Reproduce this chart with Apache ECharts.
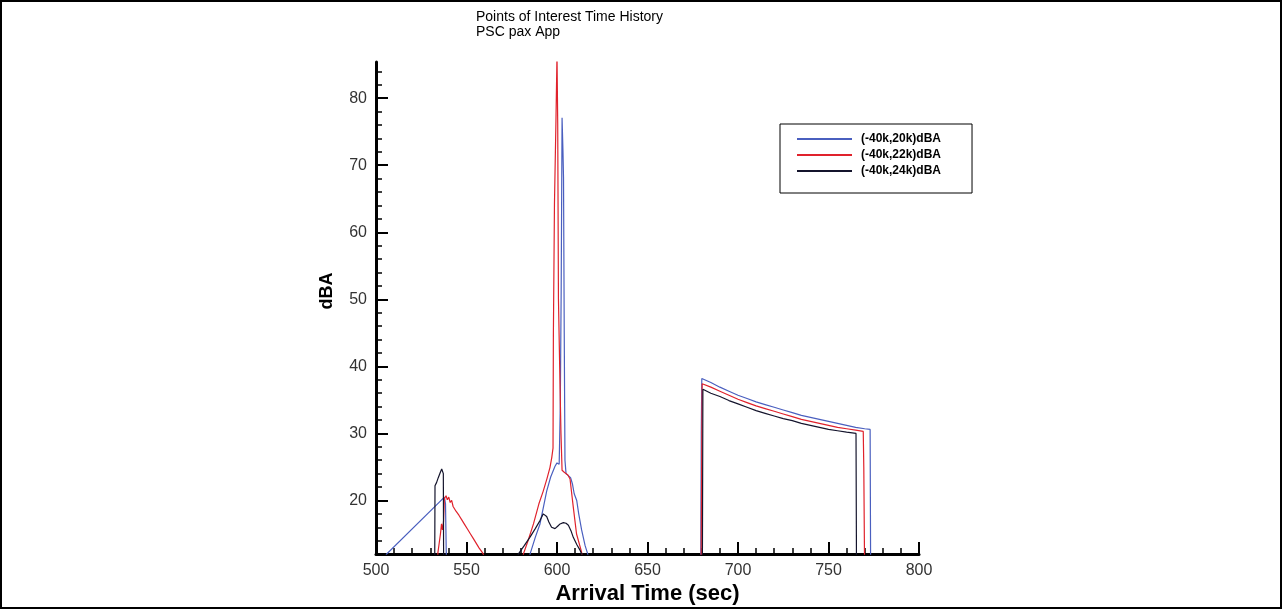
<!DOCTYPE html>
<html lang="en">
<head>
    <meta charset="UTF-8">
    <title>Points of Interest Time History</title>
    <style>
        html, body { margin: 0; padding: 0; background: #fff; }
        #chart { width: 1283px; height: 610px; }
    </style>
</head>
<body>
    <div id="chart"></div>
    <script src="https://cdn.jsdelivr.net/npm/echarts@6/dist/echarts.min.js"></script>
    <script>
        // series names (legend)
        var seriesNames = ['(-40k,20k)dBA', '(-40k,22k)dBA', '(-40k,24k)dBA'];
        var seriesColors = ['#4a5fbf', '#e0222c', '#14142c'];

        // [arrival time (sec), dBA]; values under 12 fall below the axis
        var data20k = [
            [505.5, 11.9], [537.8, 20.5], [538.4, 19.5], [538.8, 12.5], [539.2, 8],
            [584.5, 8], [585.1, 12], [588, 14.5], [590.6, 16.5], [592.5, 19], [594.3, 21.4], [596.5, 23.5],
            [598.9, 25.1], [600, 25.6], [601.2, 25.4], [601.8, 33.7], [602.3, 51], [602.8, 77.1], [603.3, 72],
            [603.6, 68.2], [604, 45], [604.4, 26], [605, 24], [606, 23.8], [607.5, 23.4], [608.5, 22.5],
            [609.5, 21], [610.9, 20], [612, 18], [613.6, 15.6], [615.5, 13.3], [617, 12], [617.6, 8],
            [679.4, 8], [679.7, 30], [680, 38.2], [685, 37.6], [690, 36.9], [695, 36.3], [700, 35.7],
            [705, 35.2], [710, 34.7], [715, 34.3], [720, 33.9], [725, 33.5], [730, 33.1], [735, 32.7],
            [740, 32.4], [745, 32.1], [750, 31.8], [755, 31.5], [760, 31.2], [765, 30.9], [770, 30.7],
            [773, 30.6], [773.3, 8]
        ];
        var data22k = [
            [533.8, 8], [534.2, 12.2], [535, 13.8], [535.6, 15], [536.2, 16.5], [536.7, 15.6], [537.3, 16.8],
            [537.8, 20.3], [538.7, 20.7], [539.4, 20.1], [540.2, 20.5], [541, 19.7], [541.8, 20.0], [542.6, 19.1],
            [543.4, 19.3], [544.2, 18.4], [545, 18.6], [545.8, 17.8], [546.6, 18.0], [547.4, 17.1], [548.2, 17.2],
            [549, 16.4], [549.8, 16.5], [550.6, 15.7], [551.4, 15.8], [552.2, 15.0], [553, 15.1], [553.8, 14.3],
            [554.6, 14.4], [555.4, 13.6], [556.2, 13.7], [557, 12.9], [557.8, 13.0], [558.6, 12.3], [559.3, 12.0],
            [560, 10.5], [560.5, 8],
            [580.8, 8], [581.4, 12], [584, 14], [587, 16.5], [590, 19.5], [592.4, 21.4], [594.5, 23.3],
            [596.1, 24.9], [597.1, 26.4], [597.8, 27.8], [598.0, 44.6], [598.6, 64.3], [599.4, 76.3], [600.0, 86.5],
            [600.4, 76], [600.8, 50], [601.7, 36.7], [602.2, 30], [602.8, 24.5], [604, 24.2], [606, 23.8],
            [607.2, 23.2], [609, 19], [610.8, 15], [613.6, 12.3], [614.5, 8],
            [679.6, 8], [680.0, 30], [680.2, 37.4], [685, 36.9], [690, 36.3], [695, 35.7], [700, 35.1],
            [705, 34.6], [710, 34.1], [715, 33.7], [720, 33.3], [725, 32.9], [730, 32.5], [735, 32.1],
            [740, 31.8], [745, 31.5], [750, 31.2], [755, 30.9], [760, 30.7], [765, 30.5], [769.2, 30.3],
            [769.5, 25], [770, 8]
        ];
        var data24k = [
            [532.4, 8], [532.6, 22.2], [533.5, 22.7], [534.4, 23.4], [535.4, 24.1], [536.3, 24.7], [536.9, 24.9],
            [537.2, 24], [537.4, 8],
            [578, 8], [578.6, 12], [582, 13.3], [585, 14.5], [588, 15.8], [590.6, 17], [592.4, 18], [594.3, 17.6],
            [595.5, 16.8], [597, 16], [598.9, 15.8], [600.5, 16.2], [601.7, 16.5], [603.5, 16.7], [605, 16.6],
            [606.3, 16.3], [607.7, 15.5], [609, 14.5], [611, 13.4], [612.7, 12.6], [613.6, 12], [614.2, 8],
            [680.3, 8], [680.6, 36.6], [685, 36.0], [690, 35.5], [695, 34.9], [700, 34.4], [705, 33.9],
            [710, 33.4], [715, 33.0], [720, 32.6], [725, 32.2], [730, 31.9], [735, 31.5], [740, 31.2],
            [745, 30.9], [750, 30.6], [755, 30.4], [760, 30.2], [765.2, 30.0], [765.5, 8]
        ];

        // axis ticks
        var yLabelTicks = [20, 30, 40, 50, 60, 70, 80];
        var yMinorTicks = [14, 16, 18, 22, 24, 26, 28, 32, 34, 36, 38, 42, 44, 46, 48,
            52, 54, 56, 58, 62, 64, 66, 68, 72, 74, 76, 78, 82, 84];

        var chart = echarts.init(document.getElementById('chart'));
        var font = "'Liberation Sans', Arial, sans-serif";

        var allData = [data20k, data22k, data24k];
        var series = allData.map(function (d, i) {
            return {
                name: seriesNames[i],
                type: 'line',
                data: d,
                showSymbol: false,
                symbol: 'none',
                clip: true,
                color: seriesColors[i],
                lineStyle: { width: 1.2, color: seriesColors[i] }
            };
        });

        option = {
            animation: false,
            backgroundColor: '#fff',
            title: {
                text: 'Points of Interest Time History\nPSC pax App',
                left: 476,
                top: 10,
                padding: 0,
                textStyle: { fontFamily: font, fontSize: 14, fontWeight: 'normal', color: '#000', lineHeight: 15 }
            },
            legend: {
                orient: 'vertical',
                left: 780,
                top: 124,
                padding: [9, 31, 16, 17],
                itemGap: 4,
                itemWidth: 55,
                itemHeight: 2,
                icon: 'rect',
                borderColor: '#000',
                borderWidth: 1,
                data: seriesNames,
                textStyle: { fontFamily: font, fontSize: 12, fontWeight: 'bold', color: '#000', padding: [0, 0, 0, 4] }
            },
            grid: { left: 376, right: 364, top: 62, bottom: 53 },
            xAxis: {
                type: 'value',
                min: 500,
                max: 800,
                interval: 50,
                name: 'Arrival Time (sec)',
                nameLocation: 'middle',
                nameGap: 26,
                nameTextStyle: { fontFamily: font, fontSize: 22, fontWeight: 'bold', color: '#000' },
                splitLine: { show: false },
                axisLine: { lineStyle: { color: '#000', width: 3 } },
                axisTick: { inside: true, length: 12, lineStyle: { color: '#000', width: 2 } },
                minorTick: { show: true, splitNumber: 5, length: 6, lineStyle: { color: '#000', width: 1.5 } },
                axisLabel: { fontFamily: font, fontSize: 16, color: '#333', margin: 8 }
            },
            yAxis: [{
                type: 'value',
                min: 12,
                max: 85.4,
                name: 'dBA',
                nameLocation: 'middle',
                nameGap: 40,
                nameTextStyle: { fontFamily: font, fontSize: 18, fontWeight: 'bold', color: '#000', padding: [0, 0, 0, 34] },
                splitLine: { show: false },
                axisLine: { lineStyle: { color: '#000', width: 3 } },
                axisTick: { inside: true, length: 12, customValues: yLabelTicks, lineStyle: { color: '#000', width: 2 } },
                axisLabel: { customValues: yLabelTicks, fontFamily: font, fontSize: 16, color: '#333', margin: 9 }
            }, {
                type: 'value',
                min: 12,
                max: 85.4,
                position: 'left',
                splitLine: { show: false },
                axisLine: { show: false },
                axisTick: { inside: true, length: 6, customValues: yMinorTicks, lineStyle: { color: '#000', width: 1.5 } },
                axisLabel: { show: false }
            }],
            graphic: [{
                type: 'rect',
                shape: { x: 1, y: 1, width: 1280, height: 607 },
                style: { fill: 'none', stroke: '#000', lineWidth: 2 },
                silent: true
            }],
            series: series
        };

        chart.setOption(option, true);
    </script>
</body>
</html>
